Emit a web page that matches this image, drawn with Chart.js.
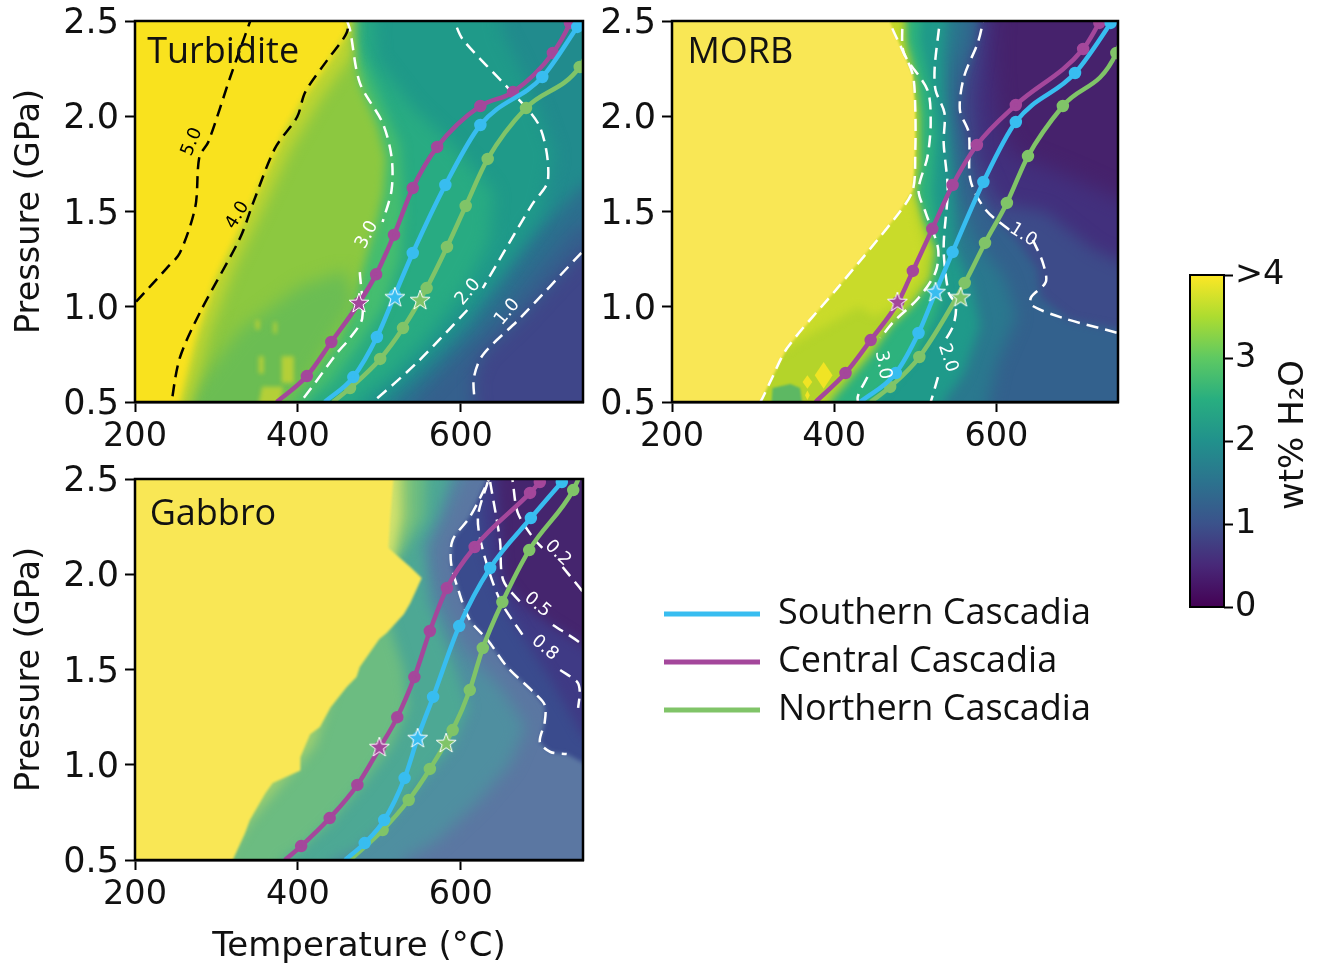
<!DOCTYPE html>
<html>
<head>
<meta charset="utf-8">
<title>Cascadia slab H2O</title>
<script src="https://cdn.jsdelivr.net/npm/chart.js@4"></script>
<style>
  body { margin: 0; background: #fff; overflow: hidden; }
  canvas { position: absolute; }
</style>
</head>
<body>
<canvas id="turbidite" width="595" height="458" style="left:0;top:0"></canvas>
<canvas id="morb" width="540" height="458" style="left:590px;top:0"></canvas>
<canvas id="gabbro" width="595" height="506" style="left:0;top:458px"></canvas>
<canvas id="legendBox" width="480" height="170" style="left:652px;top:584px"></canvas>
<canvas id="colorbar" width="152" height="380" style="left:1170px;top:250px"></canvas>
<script>
// axis ticks
const tempTicks = [200, 400, 600];
const pressTicks = [0.5, 1.0, 1.5, 2.0, 2.5];
const colorbarTicks = [0, 1, 2, 3, 4];
const seriesNames = ['Southern Cascadia', 'Central Cascadia', 'Northern Cascadia'];

// PT paths, [temperature, pressure]
const turbSouth = [[433,.5],[468,.631],[497,.841],[519,1.062],[541,1.282],[581,1.639],[624,1.954],[700,2.206],[743,2.469],[759,2.57]];
const turbCentral = [[374,.5],[411,.636],[441,.815],[475,1.02],[496,1.17],[518,1.377],[541,1.623],[571,1.839],[624,2.054],[664,2.127],[713,2.332],[734,2.49],[740,2.56]];
const turbNorth = [[443,.5],[464,.573],[501,.726],[529,.888],[558,1.098],[583,1.314],[606,1.529],[633,1.776],[680,2.043],[746,2.259],[759,2.37]];
const morbSouth = [[432,.5],[476,.652],[504,.862],[525,1.077],[546,1.287],[584,1.655],[624,1.97],[697,2.227],[741,2.49],[754,2.58]];
const morbCentral = [[377,.5],[414,.652],[445,.825],[479,1.025],[497,1.188],[521,1.409],[546,1.639],[576,1.849],[624,2.059],[707,2.353],[727,2.49],[739,2.57]];
const morbNorth = [[445,.5],[469,.579],[505,.736],[561,1.125],[586,1.335],[613,1.545],[639,1.791],[682,2.054],[748,2.332],[760,2.5]];
const gabSouth = [[458,.5],[482,.589],[506,.71],[531,.93],[547,1.14],[566,1.356],[598,1.728],[636,2.033],[686,2.295],[724,2.484],[737,2.547]];
const gabCentral = [[384,.5],[404,.573],[439,.72],[473,.894],[501,1.093],[522,1.25],[543,1.46],[562,1.702],[583,1.928],[617,2.143],[685,2.427],[697,2.484],[710,2.547]];
const gabNorth = [[464,.5],[504,.657],[536,.815],[562,.978],[590,1.182],[611,1.392],[627,1.613],[651,1.854],[684,2.127],[738,2.442],[749,2.547]];

// star positions: southern, central, northern
const turbStars = [[519,1.05],[475,1.02],[550,1.035]];
const morbStars = [[525,1.077],[478,1.025],[556,1.05]];
const gabStars = [[547,1.14],[500,1.093],[582,1.114]];

// contour lines, null = gap
const turbC5 = [[344,2.53],[317,2.206],[290,1.865],[279,1.786],[274,1.524],[255,1.282],[239,1.203],[202,1.03],[188,.97]];
const turbC4 = [[462,2.56],[460,2.44],[436,2.295],[409,2.127],[399,1.996],[372,1.833],[345,1.545],[329,1.361],[280,.972],[255,.731],[245,.5],[243,.4]];
const turbC3 = [[460,2.505],[464,2.453],[476,2.175],[504,1.965],[515,1.786],[515,1.613],[504,1.445],null,[476,1.182],[479,.941],[464,.836],[448,.757],[403,.5],[384,.43]];
const turbC2 = [[589,2.56],[593,2.49],[603,2.4],[660,2.138],[697,1.944],[707,1.665],[687,1.534],[627,1.098],null,[608,.983],[547,.71],[492,.5],[470,.43]];
const turbC1 = [[765,1.35],[749,1.287],[673,.941],[627,.747],[616,.626],[617,.5],[618,.41]];
const morbC3a = [[467,2.558],[469,2.49],[484,2.348],[497,2.217],[500,2.033],[500,1.823],[497,1.613],[478,1.482],[404,1.098],[342,.783],[321,.605],[309,.5],[296,.43]];
const morbC3b = [[484,2.558],[484,2.49],[486,2.332],[515,2.138],[519,1.965],[515,1.786],[504,1.613],[513,1.492],[528,1.308],[525,1.182],[504,1.046],[473,.92],[457,.836],null,[441,.631],[429,.526],[432,.458]];
const morbC2 = [[531,2.558],[530,2.49],[524,2.259],[525,2.138],[536,2.017],[535,1.86],[540,1.613],[535,1.308],[541,1.077],[550,1.009],[547,.904],[535,.81],null,[528,.631],[519,.5],[513,.43]];
const morbC1 = [[584,2.558],[583,2.49],[577,2.385],[560,2.206],[555,2.033],[566,1.912],[568,1.665],[587,1.508],[621,1.387],null,[645,1.35],[657,1.235],[661,1.13],[643,1.051],[643,1.009],[682,.941],[750,.862],[766,.84]];
const gabC1 = [[638,2.547],[633,2.484],[611,2.3],[590,2.18],[588,2.059],[597,1.917],[611,1.76],[633,1.655],[657,1.513],[689,1.382],[703,1.314],[703,1.224],[697,1.119],[710,1.067],[730,1.056]];
const gabC08 = [[633,2.484],[621,2.3],[627,2.127],[648,1.865],[676,1.681],null,[722,1.497],[743,1.434],[746,1.382],[744,1.298]];
const gabC05 = [[636,2.484],[648,2.18],[652,1.97],[676,1.839],null,[713,1.734],[750,1.629],[765,1.56]];
const gabC02 = [[662,2.547],[664,2.479],[670,2.322],[689,2.19],[700,2.138],null,[725,2.038],[750,1.907],[765,1.82]];

// contour labels and panel names: text, temperature, pressure, rotation
const turbLabels = [['5.0',270,1.865,-68],['4.0',326,1.48,-58],['3.0',485,1.377,-62],['2.0',609,1.077,-50],['1.0',657,.972,-50]];
const morbLabels = [['3.0',460,.694,80],['2.0',540,.731,72],['1.0',633,1.377,32]];
const gabLabels = [['0.2',719,2.11,45],['0.5',694,1.839,40],['0.8',703,1.613,40]];
const panelNames = [['Turbidite',215,2.335],['MORB',219,2.335],['Gabbro',218,2.312]];

// filled regions of wt% H2O, low to high. Right-hand edge of each region, it closes to the left
const turbBands = [
  [[800,2.8],[800,1.38],[749,1.29],[673,.94],[627,.75],[616,.63],[617,.5],[618,.2]],
  [[800,2.8],[800,1.5],[740,1.42],[690,1.18],[645,.95],[600,.76],[565,.6],[545,.5],[530,.2]],
  [[800,2.8],[800,1.75],[745,1.62],[700,1.42],[660,1.2],[610,.9],[560,.68],[515,.5],[490,.2]],
  [[650,2.8],[650,2.45],[690,2.1],[715,1.8],[700,1.5],[650,1.2],[600,.95],[550,.72],[490,.5],[460,.2]],
  [[490,2.8],[495,2.3],[540,2.05],[590,1.85],[640,1.6],[635,1.35],[605,1.1],[560,.85],[515,.65],[470,.5],[440,.2]],
  [[470,2.8],[470,2.4],[495,2.15],[525,1.85],[530,1.5],[525,1.25],[505,1],[475,.8],[440,.6],[410,.5],[390,.2]],
  [[462,2.8],[462,2.45],[478,2.15],[498,1.95],[508,1.78],[505,1.6],[497,1.45],[480,1.2],[468,1],[445,.8],[410,.62],[375,.5],[350,.2]]
];
const turbBandColors = ['#35608d','#2c6f8e','#218b8d','#1f9a89','#28ab82','#45bd6f','#8cc840'];
const turbBandBlur = [8,8,8,8,8,6,5];
const turbPatch = [[240,.3],[261,.5],[329,.88],[403,1.11],[458,1.19],[470,1.03],[427,.72],[395,.5],[385,.3]];
const turbNearYellow = [[471,2.8],[466,2.32],[427,2.085],[390,1.823],[356,1.508],[323,1.219],[292,.878],[268,.5],[255,.2]];
const turbYellow = [[462,2.8],[460,2.44],[439,2.295],[409,2.11],[384,1.928],[356,1.665],[329,1.413],[298,1.14],[274,.825],[255,.5],[245,.2]];
const turbSpecks = [
  [[380,.74],[395,.74],[395,.6],[380,.6]],
  [[348,.93],[353,.93],[353,.88],[348,.88]],
  [[370,.92],[374,.92],[374,.86],[370,.86]],
  [[352,.74],[358,.74],[358,.65],[352,.65]],
  [[356,.58],[382,.58],[376,.45],[350,.45]]
];

const morbBands = [
  [[600,2.8],[595,2.3],[600,2],[620,1.8],[680,1.7],[760,1.55],[800,1.5],[800,.2]],
  [[590,2.8],[580,2.4],[570,2.1],[575,1.8],[600,1.55],[660,1.5],[720,1.3],[800,1.15],[800,.2]],
  [[583,2.8],[575,2.4],[560,2.2],[552,2.03],[560,1.9],[570,1.66],[590,1.5],[625,1.35],[650,1.2],[655,1.05],[690,.93],[800,.84],[800,.2]],
  [[570,2.8],[560,2.4],[545,2.2],[545,2],[550,1.8],[555,1.6],[575,1.35],[610,1.15],[625,.95],[600,.7],[590,.5],[585,.2]],
  [[545,2.8],[535,2.3],[535,2.1],[540,1.9],[545,1.65],[550,1.3],[570,1.1],[580,.9],[560,.65],[535,.5],[525,.2]],
  [[510,2.8],[505,2.4],[518,2.15],[525,1.9],[520,1.6],[530,1.3],[535,1.1],[525,.95],[500,.75],[470,.6],[450,.5],[440,.2]],
  [[488,2.8],[488,2.4],[500,2.2],[505,2],[505,1.75],[500,1.6],[510,1.45],[525,1.3],[520,1.15],[495,1],[470,.9],[445,.75],[415,.6],[395,.5],[385,.2]],
  [[480,2.8],[480,2.2],[495,2],[495,1.6],[502,1.45],[512,1.3],[505,1.15],[480,1.02],[450,.95],[430,1]]
];
const morbBandColors = ['#42307d','#3d4b89','#33618d','#2a788e','#1f9a8a','#2db27d','#b4d42a','#c9db2a'];
const morbBandBlur = [10,8,4,8,6,5,4,5];
const morbPatch = [[321,.4],[324,.573],[346,.594],[358,.573],[364,.4]];
const morbSpots = [
  [[387,.71],[398,.64],[387,.57],[376,.64]],
  [[367,.64],[373,.605],[367,.57],[361,.605]],
  [[367,.56],[370,.535],[367,.51],[364,.535]]
];
const morbYellow = [[465,2.8],[469,2.49],[484,2.348],[497,2.217],[500,2.033],[500,1.823],[497,1.613],[478,1.482],[404,1.098],[342,.783],[321,.605],[309,.5],[290,.2]];

const gabBands = [
  [[640,2.8],[648,2.2],[652,1.97],[676,1.84],[713,1.73],[750,1.63],[800,1.5],[800,.2]],
  [[630,2.8],[625,2.3],[630,2.1],[650,1.85],[680,1.65],[710,1.45],[730,1.3],[750,1.15],[800,1.1],[800,.2]],
  [[650,2.8],[638,2.55],[611,2.3],[590,2.18],[588,2.06],[597,1.92],[611,1.76],[633,1.655],[657,1.51],[689,1.38],[703,1.31],[703,1.22],[697,1.12],[710,1.067],[730,1.056],[755,1],[800,.95],[800,.2]],
  [[620,2.8],[605,2.55],[580,2.3],[565,2.15],[565,2.03],[575,1.85],[605,1.6],[650,1.4],[680,1.2],[660,1],[620,.8],[570,.6],[530,.5],[510,.2]],
  [[600,2.8],[585,2.5],[570,2.3],[552,2.15],[555,2.05],[560,1.85],[590,1.55],[610,1.3],[590,1.1],[550,.9],[510,.7],[470,.55],[440,.5],[430,.2]],
  [[560,2.8],[555,2.3],[530,2.12],[500,1.95],[515,1.7],[530,1.5],[535,1.3],[515,1.1],[480,.9],[440,.7],[400,.55],[380,.5],[370,.2]],
  [[535,2.8],[535,2.3],[520,2.1],[490,1.95],[470,1.85],[450,1.5],[420,1.1],[380,.9],[340,.7],[310,.5],[300,.2]],
  [[522,2.8],[524,2.3],[518,2.15],[512,2],[495,1.85]]
];
const gabBandColors = ['#3f3a85','#3a4b8d','#5b77a2','#4f8fa0','#4da894','#6cbc81','#9ecf6f','#d3e26c'];
const gabBandBlur = [6,6,2,8,6,6,6,5];
const gabYellow = [[517,2.8],[517,2.495],[513,2.285],[511,2.138],[538,2.038],[552,1.98],[538,1.849],[530,1.79],[509,1.692],[500,1.66],[476,1.513],[472,1.46],[460,1.408],[440,1.3],[427,1.198],[415,1.16],[403,1.04],[403,.97],[369,.904],[360,.85],[341,.71],[335,.64],[320,.5],[310,.2]];

// viridis stops for the colour bar, bottom to top
const viridisStops = ['#440154','#482878','#3b528b','#2c728e','#21918c','#28ae80','#5ec962','#addc30','#fde725'];

const seriesColors = ['#38bdf0', '#a4479b', '#80c468'];
const xTickFont = { family: 'DejaVu Sans', size: 33.5 };
const yTickFont = { family: 'DejaVu Sans', size: 35 };

function toPoints(list) {
  return list.map(p => p ? { x: p[0], y: p[1] } : { x: NaN, y: NaN });
}

function closeLeft(edge) {
  return edge.concat([[100, .2], [100, 2.8]]);
}

function makeStar(color) {
  const c = document.createElement('canvas');
  c.width = 24; c.height = 24;
  const g = c.getContext('2d');
  g.beginPath();
  for (let i = 0; i < 10; i++) {
    const r = i % 2 ? 4.2 : 10.5;
    const a = -Math.PI / 2 + i * Math.PI / 5;
    g.lineTo(12 + r * Math.cos(a), 12.5 + r * Math.sin(a));
  }
  g.closePath();
  g.fillStyle = color;
  g.fill();
  g.strokeStyle = '#fff';
  g.lineWidth = 1;
  g.stroke();
  return c;
}

function regionSet(list, color, blur) {
  return { data: toPoints(list), showLine: true, fill: 'shape', borderWidth: 0, pointRadius: 0,
           tension: 0, backgroundColor: color, blur: blur };
}

function contourSet(list, color) {
  return { data: toPoints(list), showLine: true, borderColor: color, borderWidth: 2.5,
           borderDash: [12, 7], pointRadius: 0, tension: .3 };
}

function pathSet(list, color) {
  return { data: toPoints(list), showLine: true, borderColor: color, backgroundColor: color,
           borderWidth: 4.5, cubicInterpolationMode: 'monotone',
           pointRadius: ctx => (ctx.dataIndex === 0 || ctx.dataIndex === list.length - 1) ? 0 : 4 };
}

function starSet(point, color) {
  return { data: toPoints([point]), pointStyle: makeStar(color), pointRadius: 11 };
}

// blur has to be set before the Filler runs, so it is set after the dataset drawn before it
const softFill = {
  id: 'softFill',
  beforeDatasetsDraw(chart) {
    const all = chart.data.datasets;
    const first = all[all.length - 1];
    chart.ctx.filter = first.blur ? `blur(${first.blur}px)` : 'none';
  },
  afterDatasetDraw(chart, args) {
    const next = chart.data.datasets[args.index - 1];
    chart.ctx.filter = next && next.blur ? `blur(${next.blur}px)` : 'none';
  },
  afterDatasetsDraw(chart) {
    chart.ctx.filter = 'none';
  }
};

// frame, contour labels and panel name
const panelText = {
  id: 'panelText',
  afterDatasetsDraw(chart, args, opts) {
    const ctx = chart.ctx;
    const a = chart.chartArea;
    const sx = chart.scales.x;
    const sy = chart.scales.y;
    opts.labels.forEach(l => {
      ctx.save();
      ctx.translate(sx.getPixelForValue(l[1]), sy.getPixelForValue(l[2]));
      ctx.rotate(l[3] * Math.PI / 180);
      ctx.font = '18px "DejaVu Sans"';
      ctx.fillStyle = opts.labelColor(l[0]);
      ctx.textAlign = 'center';
      ctx.textBaseline = 'middle';
      ctx.fillText(l[0], 0, 0);
      ctx.restore();
    });
    ctx.save();
    ctx.font = '36px "Open Sans"';
    ctx.fillStyle = '#111';
    ctx.textBaseline = 'middle';
    ctx.fillText(opts.name[0], sx.getPixelForValue(opts.name[1]), sy.getPixelForValue(opts.name[2]));
    ctx.lineWidth = 2.5;
    ctx.strokeStyle = '#000';
    ctx.strokeRect(a.left, a.top, a.right - a.left, a.bottom - a.top);
    ctx.restore();
  }
};

function drawPanel(id, cfg) {
  const sets = [];
  cfg.stars.forEach((s, i) => sets.push(starSet(s, seriesColors[i])));
  cfg.paths.forEach((p, i) => sets.push(pathSet(p, seriesColors[i])));
  cfg.contours.forEach(c => sets.push(contourSet(c.list, c.color)));
  cfg.regions.slice().reverse().forEach(r => sets.push(regionSet(r.list, r.color, r.blur)));

  new Chart(document.getElementById(id), {
    type: 'scatter',
    data: { datasets: sets },
    plugins: [softFill, panelText],
    options: {
      responsive: false,
      animation: false,
      layout: { padding: { top: 21, right: cfg.rightPad } },
      plugins: {
        legend: { display: false },
        tooltip: { enabled: false },
        panelText: { labels: cfg.labels, name: cfg.name, labelColor: cfg.labelColor || (() => '#fff') }
      },
      scales: {
        x: {
          min: 200, max: 750,
          afterBuildTicks: s => { s.ticks = tempTicks.map(v => ({ value: v })); },
          afterFit: s => { s.height = cfg.xHeight; s.paddingLeft = 0; s.paddingRight = 0; },
          border: { color: '#000', width: 2.5 },
          grid: { drawOnChartArea: false, tickColor: '#000', tickWidth: 2, tickLength: 10 },
          ticks: { color: '#111', font: xTickFont, padding: 5, maxRotation: 0 },
          title: cfg.xTitle ? { display: true, text: 'Temperature (°C)', color: '#111',
                                font: { family: 'DejaVu Sans', size: 34 }, padding: { top: 0, bottom: -4 } } : { display: false }
        },
        y: {
          min: .5, max: 2.5,
          afterBuildTicks: s => { s.ticks = pressTicks.map(v => ({ value: v })); },
          afterFit: s => { s.width = cfg.yWidth; s.paddingTop = 0; s.paddingBottom = 0; },
          border: { color: '#000', width: 2.5 },
          grid: { drawOnChartArea: false, tickColor: '#000', tickWidth: 2, tickLength: 10 },
          ticks: { color: '#111', font: yTickFont, padding: 6, labelOffset: 3, callback: v => Number(v).toFixed(1) },
          title: cfg.yTitle ? { display: true, text: 'Pressure (GPa)', color: '#111',
                                font: { family: 'DejaVu Sans', size: 33.5 }, padding: { top: 10, bottom: 0 } } : { display: false }
        }
      }
    }
  });
}

function bandRegions(bands, colors, blurs) {
  return bands.map((b, i) => ({ list: closeLeft(b), color: colors[i], blur: blurs[i] }));
}

drawPanel('turbidite', {
  yWidth: 135, rightPad: 7, xHeight: 56, yTitle: true,
  stars: turbStars, paths: [turbSouth, turbCentral, turbNorth],
  contours: [turbC5, turbC4].map(list => ({ list, color: '#000' }))
    .concat([turbC3, turbC2, turbC1].map(list => ({ list, color: '#fff' }))),
  labelColor: t => (t === '5.0' || t === '4.0') ? '#000' : '#fff',
  labels: turbLabels, name: panelNames[0],
  regions: [{ list: [[100,.2],[900,.2],[900,2.8],[100,2.8]], color: '#3f4689', blur: 0 }]
    .concat(bandRegions(turbBands, turbBandColors, turbBandBlur))
    .concat([{ list: turbPatch, color: '#6bbd53', blur: 8 }, { list: closeLeft(turbNearYellow), color: '#bfd530', blur: 7 }])
    .concat(turbSpecks.map(list => ({ list, color: '#b4cf38', blur: 2 })))
    .concat([{ list: closeLeft(turbYellow), color: '#f9e21e', blur: 3 }])
});

drawPanel('morb', {
  yWidth: 82, rightPad: 8, xHeight: 56,
  stars: morbStars, paths: [morbSouth, morbCentral, morbNorth],
  contours: [morbC3a, morbC3b, morbC2, morbC1].map(list => ({ list, color: '#fff' })),
  labels: morbLabels, name: panelNames[1],
  regions: [{ list: [[100,.2],[900,.2],[900,2.8],[100,2.8]], color: '#46226c', blur: 0 }]
    .concat(bandRegions(morbBands, morbBandColors, morbBandBlur))
    .concat([{ list: morbPatch, color: '#5db863', blur: 1 }])
    .concat(morbSpots.map(list => ({ list, color: '#f0e424', blur: 0 })))
    .concat([{ list: closeLeft(morbYellow), color: '#f9e755', blur: 1 }])
});

drawPanel('gabbro', {
  yWidth: 135, rightPad: 7, xHeight: 104, yTitle: true, xTitle: true,
  stars: gabStars, paths: [gabSouth, gabCentral, gabNorth],
  contours: [gabC1, gabC08, gabC05, gabC02].map(list => ({ list, color: '#fff' })),
  labels: gabLabels, name: panelNames[2],
  regions: [{ list: [[100,.2],[900,.2],[900,2.8],[100,2.8]], color: '#45256e', blur: 0 }]
    .concat(bandRegions(gabBands, gabBandColors, gabBandBlur))
    .concat([{ list: closeLeft(gabYellow), color: '#f9e755', blur: 1 }])
});

// legend only chart
new Chart(document.getElementById('legendBox'), {
  type: 'line',
  data: { datasets: seriesNames.map((name, i) => ({ label: name, data: [], backgroundColor: seriesColors[i], borderWidth: 0 })) },
  options: {
    responsive: false,
    animation: false,
    scales: { x: { display: false }, y: { display: false } },
    plugins: {
      tooltip: { enabled: false },
      legend: {
        position: 'left', align: 'start', maxWidth: 470,
        labels: { boxWidth: 96, boxHeight: 5, color: '#111', padding: 12, font: { family: 'Open Sans', size: 36 } }
      }
    }
  }
});

// colour bar
new Chart(document.getElementById('colorbar'), {
  type: 'bar',
  data: {
    labels: ['wt%'],
    datasets: [{
      data: [[0, 4]],
      barPercentage: 1,
      categoryPercentage: 1,
      backgroundColor: ctx => {
        const a = ctx.chart.chartArea;
        if (!a) return viridisStops[0];
        const g = ctx.chart.ctx.createLinearGradient(0, a.bottom, 0, a.top);
        viridisStops.forEach((c, i) => g.addColorStop(i / (viridisStops.length - 1), c));
        return g;
      }
    }]
  },
  plugins: [{
    id: 'barFrame',
    afterDatasetsDraw(chart) {
      const ctx = chart.ctx;
      const a = chart.chartArea;
      ctx.save();
      ctx.lineWidth = 2;
      ctx.strokeStyle = '#000';
      ctx.strokeRect(a.left, a.top, a.right - a.left, a.bottom - a.top);
      ctx.translate(a.right + 70, (a.top + a.bottom) / 2 - 6);
      ctx.rotate(-Math.PI / 2);
      ctx.font = '34px "DejaVu Sans"';
      ctx.fillStyle = '#111';
      ctx.textAlign = 'center';
      ctx.textBaseline = 'middle';
      ctx.fillText('wt% H₂O', 0, 0);
      ctx.restore();
    }
  }],
  options: {
    responsive: false,
    animation: false,
    layout: { padding: { top: 25, left: 20, bottom: 23 } },
    plugins: { legend: { display: false }, tooltip: { enabled: false } },
    scales: {
      x: { display: false },
      y: {
        position: 'right', min: 0, max: 4,
        afterBuildTicks: s => { s.ticks = colorbarTicks.map(v => ({ value: v })); },
        afterFit: s => { s.width = 98; s.paddingTop = 0; s.paddingBottom = 0; },
        border: { display: false },
        grid: { drawOnChartArea: false, tickColor: '#000', tickWidth: 2, tickLength: 9 },
        ticks: { color: '#111', font: xTickFont, padding: 2, callback: v => v === 4 ? '>4' : v }
      }
    }
  }
});
</script>
</body>
</html>
